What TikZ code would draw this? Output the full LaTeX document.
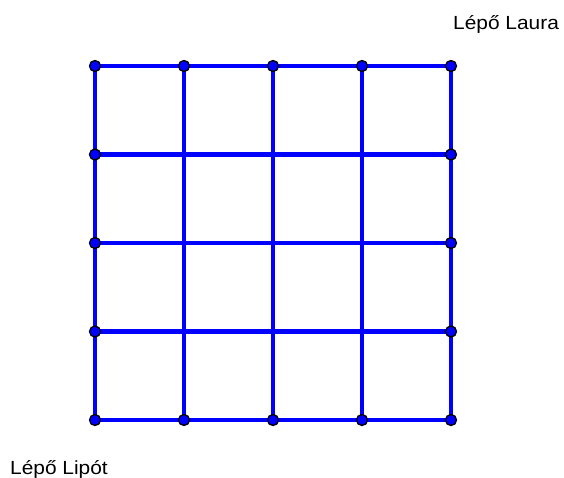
\documentclass[tikz,border=0pt]{standalone}
\usepackage{fontspec}
\setmainfont{Liberation Sans}
\begin{document}
\begin{tikzpicture}[x=1pt,y=-1pt,
  gridline/.style={draw=blue,line width=4.5pt},
  gdot/.style={circle,fill=blue,draw=black,line width=1.3pt,inner sep=0pt,minimum size=11pt},
  lbl/.style={anchor=base west,inner sep=0pt,font=\fontsize{19}{21}\selectfont}]
\useasboundingbox (0,0) rectangle (564,477);
\foreach \i in {0,...,4}{
  \foreach \j in {0,...,4}{
    \coordinate (p\i\j) at ({95+89*\i},{420-88.5*\j});
  }
}
\foreach \k in {0,...,4}{
  \draw[gridline] (p0\k) -- (p4\k);
  \draw[gridline] (p\k0) -- (p\k4);
}
\foreach \i in {0,...,4}{
  \node[gdot] (b\i) at (p\i0) {};
  \node[gdot] (t\i) at (p\i4) {};
}
\foreach \j in {1,...,3}{
  \node[gdot] (l\j) at (p0\j) {};
  \node[gdot] (r\j) at (p4\j) {};
}
\node[lbl] (laura) at (453,29.5) {\scalebox{1.1}[1]{Lépő Laura}};
\node[lbl] (lipot) at (10,474) {\scalebox{1.1}[1]{Lépő Lipót}};
\end{tikzpicture}
\end{document}
